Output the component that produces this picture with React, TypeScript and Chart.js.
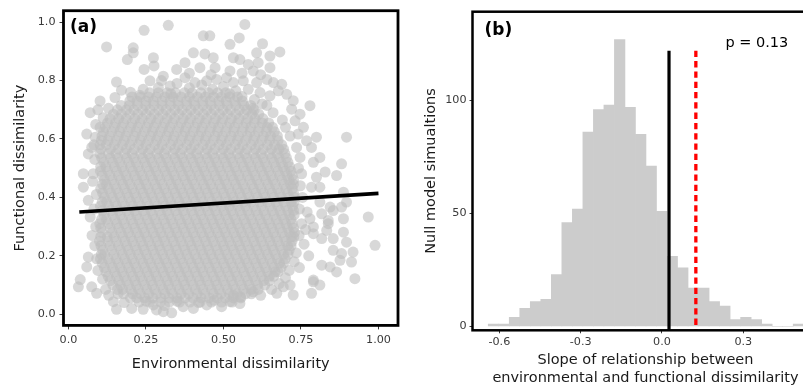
import React, { useEffect, useRef } from "react";
import { Chart, registerables } from "chart.js";

Chart.register(...registerables);

const FONT = '"DejaVu Sans", Verdana, sans-serif';

// ---------- Panel (a): environmental vs functional dissimilarity ----------
// Dense core of the cloud, read row by row: [functional dissimilarity, environmental values]
const coreRows: [number, number[]][] = [
  [0.758, [0.262, 0.290, 0.318, 0.345, 0.374, 0.399, 0.427, 0.452, 0.481, 0.507]],
  [0.744, [0.205, 0.232, 0.258, 0.284, 0.311, 0.337, 0.363, 0.390, 0.416, 0.442, 0.468, 0.494, 0.520, 0.545]],
  [0.730, [0.198, 0.221, 0.250, 0.274, 0.302, 0.328, 0.353, 0.381, 0.404, 0.433, 0.457, 0.485, 0.509, 0.536, 0.561]],
  [0.715, [0.170, 0.196, 0.223, 0.249, 0.276, 0.302, 0.329, 0.355, 0.382, 0.408, 0.434, 0.460, 0.487, 0.513, 0.540, 0.566, 0.588]],
  [0.700, [0.158, 0.187, 0.211, 0.239, 0.263, 0.291, 0.315, 0.343, 0.367, 0.395, 0.419, 0.447, 0.471, 0.499, 0.523, 0.551, 0.575, 0.599]],
  [0.685, [0.145, 0.171, 0.198, 0.224, 0.251, 0.277, 0.304, 0.330, 0.356, 0.382, 0.408, 0.435, 0.461, 0.487, 0.513, 0.540, 0.566, 0.592, 0.614]],
  [0.670, [0.134, 0.162, 0.186, 0.214, 0.238, 0.266, 0.290, 0.318, 0.342, 0.370, 0.394, 0.422, 0.446, 0.474, 0.498, 0.526, 0.550, 0.578, 0.602, 0.627]],
  [0.655, [0.126, 0.152, 0.178, 0.205, 0.231, 0.258, 0.284, 0.310, 0.336, 0.363, 0.389, 0.415, 0.441, 0.468, 0.494, 0.520, 0.546, 0.573, 0.599, 0.625, 0.646]],
  [0.640, [0.119, 0.148, 0.172, 0.200, 0.224, 0.252, 0.276, 0.304, 0.328, 0.356, 0.380, 0.408, 0.432, 0.460, 0.484, 0.512, 0.536, 0.564, 0.588, 0.616, 0.641, 0.658]],
  [0.625, [0.113, 0.140, 0.166, 0.192, 0.218, 0.245, 0.271, 0.297, 0.323, 0.350, 0.376, 0.402, 0.428, 0.455, 0.481, 0.507, 0.533, 0.560, 0.586, 0.612, 0.638, 0.664]],
  [0.610, [0.108, 0.133, 0.161, 0.185, 0.213, 0.237, 0.265, 0.289, 0.317, 0.341, 0.369, 0.393, 0.421, 0.445, 0.473, 0.497, 0.525, 0.549, 0.577, 0.601, 0.629, 0.652, 0.674]],
  [0.595, [0.106, 0.128, 0.154, 0.180, 0.206, 0.232, 0.258, 0.284, 0.310, 0.337, 0.363, 0.389, 0.415, 0.441, 0.467, 0.493, 0.519, 0.545, 0.571, 0.597, 0.623, 0.649, 0.676]],
  [0.580, [0.102, 0.122, 0.148, 0.174, 0.198, 0.226, 0.250, 0.278, 0.302, 0.330, 0.354, 0.382, 0.406, 0.434, 0.458, 0.486, 0.510, 0.538, 0.562, 0.590, 0.614, 0.642, 0.665, 0.688]],
  [0.565, [0.105, 0.136, 0.161, 0.187, 0.212, 0.239, 0.264, 0.291, 0.316, 0.343, 0.368, 0.395, 0.420, 0.447, 0.472, 0.499, 0.524, 0.551, 0.576, 0.603, 0.628, 0.655, 0.679, 0.694]],
  [0.550, [0.101, 0.129, 0.153, 0.181, 0.205, 0.233, 0.257, 0.285, 0.309, 0.337, 0.361, 0.389, 0.413, 0.441, 0.465, 0.493, 0.517, 0.545, 0.569, 0.597, 0.621, 0.649, 0.673, 0.698]],
  [0.535, [0.107, 0.135, 0.160, 0.187, 0.212, 0.239, 0.264, 0.291, 0.316, 0.343, 0.368, 0.395, 0.420, 0.447, 0.472, 0.499, 0.524, 0.551, 0.576, 0.603, 0.628, 0.655, 0.680, 0.703]],
  [0.520, [0.114, 0.142, 0.166, 0.194, 0.218, 0.246, 0.270, 0.298, 0.322, 0.350, 0.374, 0.402, 0.426, 0.454, 0.478, 0.506, 0.530, 0.558, 0.582, 0.610, 0.634, 0.662, 0.686, 0.708]],
  [0.505, [0.104, 0.121, 0.148, 0.173, 0.200, 0.225, 0.252, 0.277, 0.304, 0.329, 0.356, 0.381, 0.408, 0.433, 0.460, 0.485, 0.512, 0.537, 0.564, 0.589, 0.616, 0.641, 0.668, 0.692, 0.713]],
  [0.490, [0.103, 0.127, 0.155, 0.179, 0.207, 0.231, 0.259, 0.283, 0.311, 0.335, 0.363, 0.387, 0.415, 0.439, 0.467, 0.491, 0.519, 0.543, 0.571, 0.595, 0.623, 0.647, 0.675, 0.699, 0.718]],
  [0.475, [0.109, 0.134, 0.161, 0.186, 0.213, 0.238, 0.265, 0.290, 0.317, 0.342, 0.369, 0.394, 0.421, 0.446, 0.473, 0.498, 0.525, 0.550, 0.577, 0.602, 0.629, 0.654, 0.681, 0.705, 0.722]],
  [0.460, [0.116, 0.141, 0.168, 0.192, 0.220, 0.244, 0.272, 0.296, 0.324, 0.348, 0.376, 0.400, 0.428, 0.452, 0.480, 0.504, 0.532, 0.556, 0.584, 0.608, 0.636, 0.660, 0.688, 0.711, 0.726]],
  [0.445, [0.110, 0.122, 0.148, 0.175, 0.199, 0.227, 0.251, 0.279, 0.303, 0.331, 0.355, 0.383, 0.407, 0.435, 0.459, 0.487, 0.511, 0.539, 0.563, 0.591, 0.615, 0.643, 0.667, 0.695, 0.716, 0.726]],
  [0.430, [0.104, 0.129, 0.154, 0.181, 0.206, 0.233, 0.258, 0.285, 0.310, 0.337, 0.362, 0.389, 0.414, 0.441, 0.466, 0.493, 0.518, 0.545, 0.570, 0.597, 0.622, 0.649, 0.674, 0.701, 0.722]],
  [0.415, [0.110, 0.136, 0.161, 0.188, 0.213, 0.240, 0.265, 0.292, 0.317, 0.344, 0.369, 0.396, 0.421, 0.448, 0.473, 0.500, 0.525, 0.552, 0.577, 0.604, 0.629, 0.656, 0.681, 0.707, 0.726]],
  [0.400, [0.116, 0.142, 0.167, 0.194, 0.219, 0.246, 0.271, 0.298, 0.323, 0.350, 0.375, 0.402, 0.427, 0.454, 0.479, 0.506, 0.531, 0.558, 0.583, 0.610, 0.635, 0.662, 0.687, 0.712, 0.729]],
  [0.385, [0.109, 0.123, 0.149, 0.174, 0.201, 0.226, 0.253, 0.278, 0.305, 0.330, 0.357, 0.382, 0.409, 0.434, 0.461, 0.486, 0.513, 0.538, 0.565, 0.590, 0.617, 0.642, 0.669, 0.694, 0.718, 0.728]],
  [0.370, [0.103, 0.130, 0.155, 0.182, 0.207, 0.234, 0.259, 0.286, 0.311, 0.338, 0.363, 0.390, 0.415, 0.442, 0.467, 0.494, 0.519, 0.546, 0.571, 0.598, 0.623, 0.650, 0.675, 0.700, 0.723]],
  [0.355, [0.109, 0.137, 0.162, 0.189, 0.214, 0.241, 0.266, 0.293, 0.318, 0.345, 0.370, 0.397, 0.422, 0.449, 0.474, 0.501, 0.526, 0.553, 0.578, 0.605, 0.630, 0.657, 0.682, 0.707, 0.726]],
  [0.340, [0.115, 0.143, 0.168, 0.195, 0.220, 0.247, 0.272, 0.299, 0.324, 0.351, 0.376, 0.403, 0.428, 0.455, 0.480, 0.507, 0.532, 0.559, 0.584, 0.611, 0.636, 0.663, 0.688, 0.713, 0.728]],
  [0.325, [0.107, 0.122, 0.150, 0.175, 0.202, 0.227, 0.254, 0.279, 0.306, 0.331, 0.358, 0.383, 0.410, 0.435, 0.462, 0.487, 0.514, 0.539, 0.566, 0.591, 0.618, 0.643, 0.670, 0.695, 0.718]],
  [0.310, [0.101, 0.128, 0.156, 0.181, 0.208, 0.233, 0.260, 0.285, 0.312, 0.337, 0.364, 0.389, 0.416, 0.441, 0.468, 0.493, 0.520, 0.545, 0.572, 0.597, 0.624, 0.649, 0.676, 0.701, 0.722]],
  [0.295, [0.104, 0.135, 0.162, 0.188, 0.214, 0.240, 0.266, 0.292, 0.318, 0.344, 0.370, 0.396, 0.422, 0.448, 0.474, 0.500, 0.526, 0.552, 0.578, 0.604, 0.630, 0.656, 0.682, 0.707, 0.726]],
  [0.280, [0.108, 0.141, 0.169, 0.194, 0.221, 0.246, 0.273, 0.298, 0.325, 0.350, 0.377, 0.402, 0.429, 0.454, 0.481, 0.506, 0.533, 0.558, 0.585, 0.610, 0.637, 0.662, 0.689, 0.713, 0.729]],
  [0.265, [0.104, 0.125, 0.148, 0.175, 0.201, 0.228, 0.253, 0.280, 0.305, 0.332, 0.357, 0.384, 0.409, 0.436, 0.461, 0.488, 0.513, 0.540, 0.565, 0.592, 0.617, 0.644, 0.669, 0.696, 0.719, 0.727]],
  [0.250, [0.100, 0.127, 0.155, 0.182, 0.207, 0.234, 0.259, 0.286, 0.311, 0.338, 0.363, 0.390, 0.415, 0.442, 0.467, 0.494, 0.519, 0.546, 0.571, 0.598, 0.623, 0.650, 0.675, 0.701, 0.721]],
  [0.235, [0.105, 0.134, 0.161, 0.188, 0.214, 0.240, 0.266, 0.292, 0.318, 0.344, 0.370, 0.396, 0.422, 0.448, 0.474, 0.500, 0.526, 0.552, 0.578, 0.604, 0.630, 0.656, 0.682, 0.707, 0.718]],
  [0.220, [0.110, 0.140, 0.168, 0.193, 0.220, 0.245, 0.272, 0.297, 0.324, 0.349, 0.376, 0.401, 0.428, 0.453, 0.480, 0.505, 0.532, 0.557, 0.584, 0.609, 0.636, 0.661, 0.688, 0.712]],
  [0.205, [0.106, 0.117, 0.147, 0.174, 0.200, 0.226, 0.252, 0.278, 0.304, 0.330, 0.356, 0.382, 0.408, 0.434, 0.460, 0.486, 0.512, 0.538, 0.564, 0.590, 0.616, 0.642, 0.668, 0.694, 0.708]],
  [0.190, [0.103, 0.128, 0.154, 0.181, 0.206, 0.233, 0.258, 0.285, 0.310, 0.337, 0.362, 0.389, 0.414, 0.441, 0.466, 0.493, 0.518, 0.545, 0.570, 0.597, 0.622, 0.649, 0.674, 0.699]],
  [0.175, [0.109, 0.135, 0.161, 0.188, 0.213, 0.240, 0.265, 0.292, 0.317, 0.344, 0.369, 0.396, 0.421, 0.448, 0.473, 0.500, 0.525, 0.552, 0.577, 0.604, 0.629, 0.656, 0.681, 0.694]],
  [0.160, [0.116, 0.142, 0.167, 0.194, 0.219, 0.246, 0.271, 0.298, 0.323, 0.350, 0.375, 0.402, 0.427, 0.454, 0.479, 0.506, 0.531, 0.558, 0.583, 0.610, 0.635, 0.662, 0.686]],
  [0.145, [0.121, 0.149, 0.174, 0.201, 0.226, 0.253, 0.278, 0.305, 0.330, 0.357, 0.382, 0.409, 0.434, 0.461, 0.486, 0.513, 0.538, 0.565, 0.590, 0.617, 0.642, 0.667, 0.676]],
  [0.130, [0.128, 0.155, 0.180, 0.207, 0.232, 0.259, 0.284, 0.311, 0.336, 0.363, 0.388, 0.415, 0.440, 0.467, 0.492, 0.519, 0.544, 0.571, 0.596, 0.623, 0.648, 0.662]],
  [0.115, [0.135, 0.162, 0.187, 0.214, 0.239, 0.266, 0.291, 0.318, 0.343, 0.370, 0.395, 0.422, 0.447, 0.474, 0.499, 0.526, 0.551, 0.578, 0.603, 0.630, 0.648]],
  [0.100, [0.143, 0.168, 0.194, 0.219, 0.246, 0.271, 0.298, 0.323, 0.350, 0.375, 0.402, 0.427, 0.454, 0.479, 0.506, 0.531, 0.558, 0.583, 0.610, 0.633]],
  [0.085, [0.158, 0.175, 0.201, 0.226, 0.253, 0.278, 0.305, 0.330, 0.357, 0.382, 0.409, 0.434, 0.461, 0.486, 0.513, 0.538, 0.565, 0.590, 0.612]],
  [0.070, [0.178, 0.207, 0.232, 0.259, 0.284, 0.311, 0.336, 0.363, 0.388, 0.415, 0.440, 0.467, 0.492, 0.519, 0.544, 0.571, 0.590]],
  [0.056, [0.200, 0.220, 0.246, 0.272, 0.298, 0.324, 0.350, 0.376, 0.402, 0.428, 0.454, 0.480, 0.506, 0.532, 0.556]],
  [0.042, [0.228, 0.262, 0.297, 0.325, 0.358, 0.392, 0.425, 0.461, 0.494, 0.528]],
];

// Individually visible points around the core: [environmental, functional]
const outerPoints: [number, number][] = [
  [0.322, 0.989], [0.569, 0.992], [0.244, 0.972], [0.435, 0.953], [0.456, 0.953], [0.551, 0.946],
  [0.123, 0.915], [0.209, 0.912], [0.209, 0.895], [0.521, 0.924], [0.626, 0.926], [0.607, 0.895],
  [0.403, 0.895], [0.440, 0.891], [0.682, 0.898], [0.190, 0.872], [0.274, 0.878], [0.376, 0.861],
  [0.467, 0.878], [0.532, 0.878], [0.553, 0.872], [0.650, 0.884], [0.244, 0.838], [0.276, 0.850],
  [0.349, 0.838], [0.306, 0.815], [0.424, 0.844], [0.473, 0.844], [0.521, 0.833], [0.580, 0.855],
  [0.612, 0.861], [0.596, 0.833], [0.650, 0.844], [0.155, 0.795], [0.171, 0.767], [0.150, 0.742],
  [0.263, 0.799], [0.241, 0.770], [0.290, 0.776], [0.328, 0.781], [0.376, 0.810], [0.408, 0.793],
  [0.446, 0.799], [0.478, 0.804], [0.510, 0.810], [0.532, 0.793], [0.564, 0.799], [0.607, 0.793],
  [0.640, 0.804], [0.661, 0.793], [0.688, 0.787], [0.677, 0.765], [0.618, 0.759], [0.650, 0.748],
  [0.704, 0.753], [0.725, 0.731], [0.720, 0.702], [0.779, 0.714], [0.747, 0.685], [0.731, 0.662],
  [0.070, 0.690], [0.102, 0.730], [0.129, 0.705], [0.112, 0.673], [0.102, 0.640], [0.075, 0.571],
  [0.059, 0.617], [0.086, 0.606], [0.064, 0.549], [0.048, 0.481], [0.080, 0.481], [0.048, 0.435],
  [0.064, 0.390], [0.070, 0.333], [0.064, 0.196], [0.091, 0.190], [0.059, 0.162], [0.038, 0.119],
  [0.032, 0.094], [0.075, 0.094], [0.091, 0.072], [0.145, 0.043], [0.155, 0.017], [0.204, 0.020],
  [0.241, 0.017], [0.284, 0.015], [0.306, 0.009], [0.333, 0.005], [0.274, 0.032], [0.370, 0.026],
  [0.403, 0.020], [0.446, 0.032], [0.494, 0.026], [0.521, 0.043], [0.553, 0.037], [0.532, 0.065],
  [0.596, 0.077], [0.672, 0.072], [0.725, 0.066], [0.715, 0.100], [0.784, 0.072], [0.811, 0.100],
  [0.790, 0.111], [0.844, 0.162], [0.817, 0.168], [0.865, 0.145], [0.924, 0.122], [0.913, 0.179],
  [0.918, 0.213], [0.881, 0.208], [0.854, 0.219], [0.897, 0.247], [0.854, 0.259], [0.817, 0.259],
  [0.790, 0.276], [0.833, 0.287], [0.887, 0.281], [0.887, 0.327], [0.854, 0.355], [0.881, 0.367],
  [0.897, 0.384], [0.838, 0.321], [0.817, 0.344], [0.790, 0.299], [0.779, 0.327], [0.967, 0.333],
  [0.989, 0.236], [0.811, 0.384], [0.897, 0.606], [0.881, 0.515], [0.865, 0.475], [0.828, 0.487],
  [0.790, 0.520], [0.811, 0.537], [0.784, 0.571], [0.800, 0.606], [0.768, 0.594], [0.758, 0.640],
  [0.741, 0.617], [0.887, 0.418], [0.811, 0.435], [0.784, 0.435], [0.800, 0.469], [0.752, 0.481],
  [0.747, 0.537], [0.736, 0.571], [0.844, 0.367], [0.838, 0.310], [0.876, 0.185], [0.790, 0.117],
  [0.693, 0.094],
  [0.300, 0.800], [0.350, 0.790], [0.390, 0.775], [0.430, 0.785], [0.465, 0.770], [0.500, 0.780],
  [0.540, 0.765], [0.580, 0.770], [0.560, 0.745], [0.600, 0.735], [0.625, 0.720], [0.595, 0.705],
  [0.230, 0.750], [0.200, 0.760], [0.520, 0.755], [0.460, 0.820], [0.390, 0.825], [0.560, 0.825],
  [0.620, 0.820], [0.330, 0.755],
  [0.085, 0.530], [0.078, 0.455], [0.090, 0.410], [0.082, 0.360], [0.088, 0.300], [0.076, 0.270],
  [0.085, 0.235], [0.095, 0.150], [0.110, 0.120], [0.120, 0.085], [0.088, 0.650], [0.095, 0.700],
  [0.082, 0.580],
  [0.742, 0.500], [0.748, 0.440], [0.755, 0.400], [0.745, 0.360], [0.752, 0.310], [0.744, 0.270],
  [0.760, 0.240], [0.735, 0.210], [0.728, 0.180], [0.712, 0.150], [0.700, 0.125], [0.680, 0.105],
  [0.655, 0.085], [0.620, 0.065], [0.770, 0.350], [0.765, 0.290], [0.775, 0.200], [0.745, 0.160],
  [0.700, 0.640], [0.715, 0.610], [0.690, 0.665], [0.660, 0.690], [0.640, 0.715],
  [0.180, 0.040], [0.250, 0.045], [0.310, 0.030], [0.350, 0.045], [0.420, 0.040], [0.470, 0.048],
  [0.555, 0.060], [0.160, 0.070], [0.130, 0.065],
];

// Fitted regression line (end points)
const fitEnv = [0.035, 1.0];
const fitFunc = [0.35, 0.414];

const envTicks = [0, 0.25, 0.5, 0.75, 1.0];
const envTickLabels = ["0.0", "0.25", "0.50", "0.75", "1.00"];
const funcTicks = [0, 0.2, 0.4, 0.6, 0.8, 1.0];
const funcTickLabels = ["0.0", "0.2", "0.4", "0.6", "0.8", "1.0"];

// ---------- Panel (b): histogram of null-model slopes ----------
const binCenters = [
  -0.6216, -0.5828, -0.544, -0.5052, -0.4664, -0.4276, -0.3888, -0.35, -0.3112, -0.2724,
  -0.2336, -0.1948, -0.156, -0.1172, -0.0784, -0.0396, -0.0008, 0.038, 0.0768, 0.1156,
  0.1544, 0.1932, 0.232, 0.2708, 0.3096, 0.3484, 0.3872, 0.426, 0.4648, 0.5036,
];
const simCounts = [
  1, 1, 4, 8, 11, 12, 23, 46, 52, 86,
  96, 98, 127, 97, 85, 71, 51, 31, 26, 17,
  17, 11, 9, 3, 4, 3, 1, 0, 0, 1,
];
const solidLineSlope = 0.026;
const dashedLineSlope = 0.125;
const lineTopCount = 122;
const pValueText = "p = 0.13";
const pValuePos = [0.35, 125.5];

const slopeTicks = [-0.6, -0.3, 0, 0.3];
const slopeTickLabels = ["-0.6", "-0.3", "0.0", "0.3"];
const countTicks = [0, 50, 100];
const countTickLabels = ["0", "50", "100"];

const TICK_COLOR = "#3a3a3a";
const TITLE_COLOR = "#1a1a1a";

function tickSetup(values: number[], labels: string[]) {
  return {
    afterBuildTicks: (scale: any) => {
      scale.ticks = values.map((value) => ({ value }));
    },
    callback: (_v: any, i: number) => labels[i],
  };
}

function makeBoxPlugin(lineWidth: number, tag: string, tagDx: number, tagDy: number, extra?: (chart: any) => void) {
  return {
    id: "panelBox" + tag,
    afterDatasetsDraw(chart: any) {
      const { ctx, chartArea } = chart;
      ctx.save();
      ctx.strokeStyle = "#000";
      ctx.lineWidth = lineWidth;
      ctx.strokeRect(chartArea.left, chartArea.top, chartArea.right - chartArea.left, chartArea.bottom - chartArea.top);
      ctx.fillStyle = "#000";
      ctx.font = `bold 17px ${FONT}`;
      ctx.textAlign = "left";
      ctx.textBaseline = "middle";
      ctx.fillText(tag, chartArea.left + tagDx, chartArea.top + tagDy);
      if (extra) extra(chart);
      ctx.restore();
    },
  };
}

export default function App() {
  const refA = useRef<HTMLCanvasElement>(null);
  const refB = useRef<HTMLCanvasElement>(null);

  useEffect(() => {
    Chart.defaults.font.family = FONT;

    const scatterData: { x: number; y: number }[] = [];
    coreRows.forEach(([y, xs]) => xs.forEach((x) => scatterData.push({ x, y })));
    outerPoints.forEach(([x, y]) => scatterData.push({ x, y }));

    const envSetup = tickSetup(envTicks, envTickLabels);
    const funcSetup = tickSetup(funcTicks, funcTickLabels);

    const chartA = new Chart(refA.current!, {
      type: "scatter",
      data: {
        datasets: [
          {
            type: "line",
            data: fitEnv.map((x, i) => ({ x, y: fitFunc[i] })),
            borderColor: "#000",
            borderWidth: 3.6,
            pointRadius: 0,
            order: -1,
          } as any,
          {
            type: "scatter",
            data: scatterData,
            backgroundColor: "rgba(190,190,190,0.6)",
            pointRadius: 5.5,
            pointBorderWidth: 0,
            borderWidth: 0,
            order: 0,
          } as any,
        ],
      },
      options: {
        animation: false,
        responsive: false,
        devicePixelRatio: 1,
        events: [],
        layout: { autoPadding: false, padding: { left: 0, right: 2, top: 9.5, bottom: 0 } },
        plugins: { legend: { display: false }, tooltip: { enabled: false } },
        scales: {
          x: {
            type: "linear",
            min: -0.016,
            max: 1.063,
            afterBuildTicks: envSetup.afterBuildTicks,
            afterFit: (s: any) => { s.height = 66.6; },
            border: { display: false },
            grid: { drawOnChartArea: false, drawTicks: true, tickLength: 4, color: TICK_COLOR, lineWidth: 1 },
            ticks: { callback: envSetup.callback, autoSkip: false, maxRotation: 0, minRotation: 0, padding: 4, color: TICK_COLOR, font: { size: 11.2 } },
            title: { display: true, text: "Environmental dissimilarity", color: TITLE_COLOR, font: { size: 14.5 }, padding: { top: 0, bottom: 19 } },
          },
          y: {
            type: "linear",
            min: -0.038,
            max: 1.039,
            afterBuildTicks: funcSetup.afterBuildTicks,
            afterFit: (s: any) => { s.width = 63.5; },
            border: { display: false },
            grid: { drawOnChartArea: false, drawTicks: true, tickLength: 4, color: TICK_COLOR, lineWidth: 1 },
            ticks: { callback: funcSetup.callback, autoSkip: false, padding: 4, color: TICK_COLOR, font: { size: 11.2 } },
            title: { display: true, text: "Functional dissimilarity", color: TITLE_COLOR, font: { size: 14.5 }, padding: { top: 11.3, bottom: 0 } },
          },
        },
      },
      plugins: [makeBoxPlugin(2.8, "(a)", 6.5, 17.2)],
    } as any);

    const slopeSetup = tickSetup(slopeTicks, slopeTickLabels);
    const countSetup = tickSetup(countTicks, countTickLabels);

    const pText = (chart: any) => {
      const { ctx, scales } = chart;
      ctx.font = `14.5px ${FONT}`;
      ctx.fillStyle = "#000";
      ctx.textAlign = "center";
      ctx.textBaseline = "middle";
      ctx.fillText(pValueText, scales.x.getPixelForValue(pValuePos[0]), scales.y.getPixelForValue(pValuePos[1]));
    };

    const chartB = new Chart(refB.current!, {
      type: "bar",
      data: {
        datasets: [
          {
            type: "line",
            data: [{ x: dashedLineSlope, y: lineTopCount }, { x: dashedLineSlope, y: -3 }],
            borderColor: "#ff0000",
            borderWidth: 3.3,
            borderDash: [6.3, 4],
            pointRadius: 0,
            order: 0,
          },
          {
            type: "line",
            data: [{ x: solidLineSlope, y: lineTopCount }, { x: solidLineSlope, y: -3 }],
            borderColor: "#000",
            borderWidth: 3.2,
            pointRadius: 0,
            order: 1,
          },
          {
            type: "bar",
            data: binCenters.map((x, i) => ({ x, y: simCounts[i] })),
            backgroundColor: "#cccccc",
            borderWidth: 0,
            barPercentage: 1,
            categoryPercentage: 1,
            order: 2,
          },
        ],
      },
      options: {
        animation: false,
        responsive: false,
        devicePixelRatio: 1,
        events: [],
        layout: { autoPadding: false, padding: { left: 0, right: 1.5, top: 11.7, bottom: 0 } },
        plugins: { legend: { display: false }, tooltip: { enabled: false } },
        scales: {
          x: {
            type: "linear",
            offset: false,
            min: -0.699,
            max: 0.5775,
            afterBuildTicks: slopeSetup.afterBuildTicks,
            afterFit: (s: any) => { s.height = 61.7; },
            border: { display: false },
            grid: { offset: false, drawOnChartArea: false, drawTicks: true, tickLength: 3, color: TICK_COLOR, lineWidth: 1 },
            ticks: { callback: slopeSetup.callback, autoSkip: false, maxRotation: 0, minRotation: 0, padding: 2, color: TICK_COLOR, font: { size: 11.2 } },
            title: {
              display: true,
              text: ["Slope of relationship between", "environmental and functional dissimilarity"],
              color: TITLE_COLOR,
              font: { size: 14.5 },
              padding: { top: 0, bottom: 5.2 },
            },
          },
          y: {
            type: "linear",
            min: -1.7,
            max: 139.3,
            afterBuildTicks: countSetup.afterBuildTicks,
            afterFit: (s: any) => { s.width = 72.5; },
            border: { display: false },
            grid: { drawOnChartArea: false, drawTicks: true, tickLength: 3, color: TICK_COLOR, lineWidth: 1 },
            ticks: { callback: countSetup.callback, autoSkip: false, padding: 3, color: TICK_COLOR, font: { size: 11.2 } },
            title: { display: true, text: "Null model simualtions", color: TITLE_COLOR, font: { size: 14.5 }, padding: { top: 23, bottom: 0 } },
          },
        },
      },
      plugins: [makeBoxPlugin(2.5, "(b)", 12, 19, pText)],
    } as any);

    return () => {
      chartA.destroy();
      chartB.destroy();
    };
  }, []);

  return (
    <div style={{ position: "fixed", left: 0, top: 0, width: 803, height: 392, overflow: "hidden", background: "#fff" }}>
      <canvas ref={refA} width={400} height={392} style={{ position: "absolute", left: 0, top: 0, width: 400, height: 392 }} />
      <canvas ref={refB} width={420} height={392} style={{ position: "absolute", left: 400, top: 0, width: 420, height: 392 }} />
    </div>
  );
}
